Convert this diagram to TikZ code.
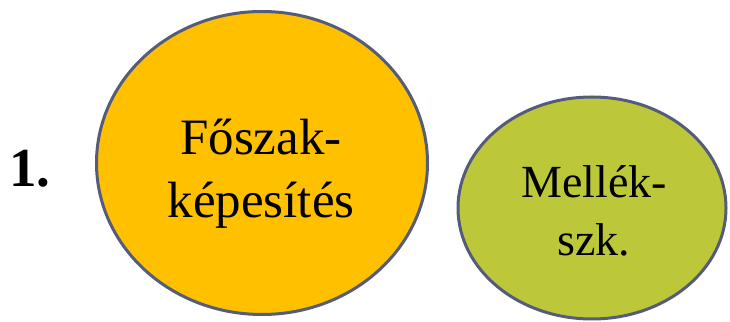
\documentclass[tikz,border=0pt]{standalone}
\usepackage{fontspec}
\setmainfont{Liberation Serif}
\usetikzlibrary{shapes.geometric}
\definecolor{orangefill}{RGB}{255,192,0}
\definecolor{greenfill}{RGB}{188,200,58}
\definecolor{rimcol}{RGB}{84,92,122}
\tikzset{
  blob/.style={ellipse, draw=rimcol, line width=3pt, inner sep=0pt},
  bigtxt/.style={anchor=base, inner sep=0pt, font=\fontsize{51}{61}\selectfont},
  smalltxt/.style={anchor=base, inner sep=0pt, font=\fontsize{46}{55}\selectfont},
}
\begin{document}
\begin{tikzpicture}[x=1pt,y=1pt]
\useasboundingbox (0,0) rectangle (730,321);
\node[blob, fill=orangefill, minimum width=331pt, minimum height=303pt] (main) at (262,158) {};
\node[blob, fill=greenfill, minimum width=268pt, minimum height=222pt] (side) at (592,113) {};
\node[bigtxt] (m1) at (261,166) {Főszak-};
\node[bigtxt] (m2) at (261,103) {képesítés};
\node[smalltxt] (s1) at (594,123) {Mellék-};
\node[smalltxt] (s2) at (594,65) {szk.};
\node[anchor=base west, inner sep=0pt, font=\bfseries\fontsize{55}{66}\selectfont] (num) at (9,134) {1.};
\end{tikzpicture}
\end{document}
